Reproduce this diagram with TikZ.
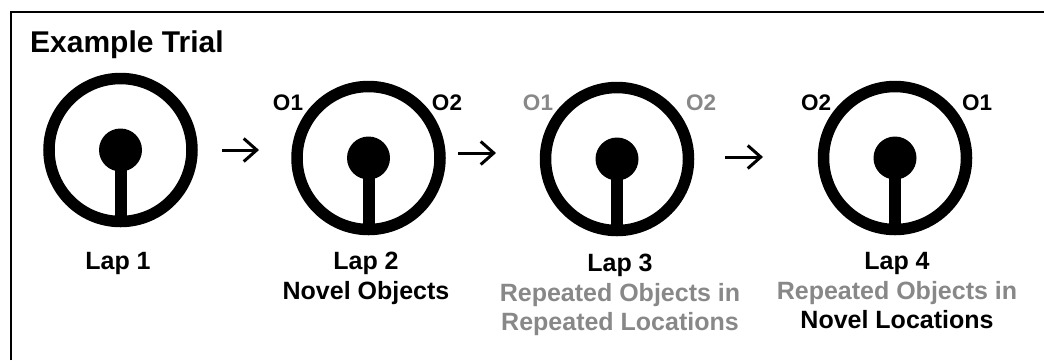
\documentclass[tikz,border=0pt]{standalone}
\usepackage{fontspec}
\setmainfont{Liberation Sans}
\usetikzlibrary{arrows.meta}

\definecolor{fadedgray}{RGB}{136,136,136}

\tikzset{
  track/.style={circle, draw=black, line width=11.5pt, minimum size=143pt,
    inner sep=0pt, outer sep=0pt},
  hub/.style={circle, fill=black, minimum size=43pt, inner sep=0pt},
  stem/.style={line width=12pt},
  objlabel/.style={anchor=base, font=\bfseries\fontsize{22.5}{22.5}\selectfont},
  laplabel/.style={anchor=north, align=center,
    font=\bfseries\fontsize{25}{29.5}\selectfont},
  nextlap/.style={line width=3pt, -{Straight Barb[length=13pt,width=23pt,line width=3pt]}},
  faded/.style={text=fadedgray},
}

\begin{document}
\begin{tikzpicture}[x=1pt, y=-1pt]
  \useasboundingbox (0,0) rectangle (1044,360);

  % open frame: top and left edges only
  \draw[line width=2.5pt] (11,360) |- (1044,12);

  \node[anchor=base west, inner sep=0pt, font=\bfseries\fontsize{30}{30}\selectfont]
    (title) at (30,52) {Example Trial};

  % the four laps of the circular track
  \foreach \i/\x/\y in {1/120.5/150, 2/368.5/158, 3/617/159, 4/895/158} {
    \node[track] (c\i) at (\x,\y) {};
    \node[hub] (h\i) at (c\i.center) {};
    \draw[stem] (h\i.center) -- (c\i.south);
  }

  % object positions around the track
  \node[objlabel] (o21) at (288,110) {O1};
  \node[objlabel] (o22) at (447,110) {O2};
  \node[objlabel, faded] (o31) at (538,110) {O1};
  \node[objlabel, faded] (o32) at (701,110) {O2};
  \node[objlabel] (o42) at (816,110) {O2};
  \node[objlabel] (o41) at (977,110) {O1};

  % lap captions
  \node[laplabel] (l1) at (118,249) {Lap 1};
  \node[laplabel] (l2) at (366,249)
    {Lap 2\\Novel Objects};
  \node[laplabel] (l3) at (620,251)
    {Lap 3\\\textcolor{fadedgray}{Repeated Objects in}\\\textcolor{fadedgray}{Repeated Locations}};
  \node[laplabel] (l4) at (897,249)
    {Lap 4\\\textcolor{fadedgray}{Repeated Objects in}\\Novel Locations};

  % arrows between laps
  \coordinate (a1s) at (222,150); \coordinate (a1e) at (259,150);
  \coordinate (a2s) at (458,153); \coordinate (a2e) at (496,153);
  \coordinate (a3s) at (725,157); \coordinate (a3e) at (763,157);
  \draw[nextlap] (a1s) -- (a1e);
  \draw[nextlap] (a2s) -- (a2e);
  \draw[nextlap] (a3s) -- (a3e);
\end{tikzpicture}
\end{document}
